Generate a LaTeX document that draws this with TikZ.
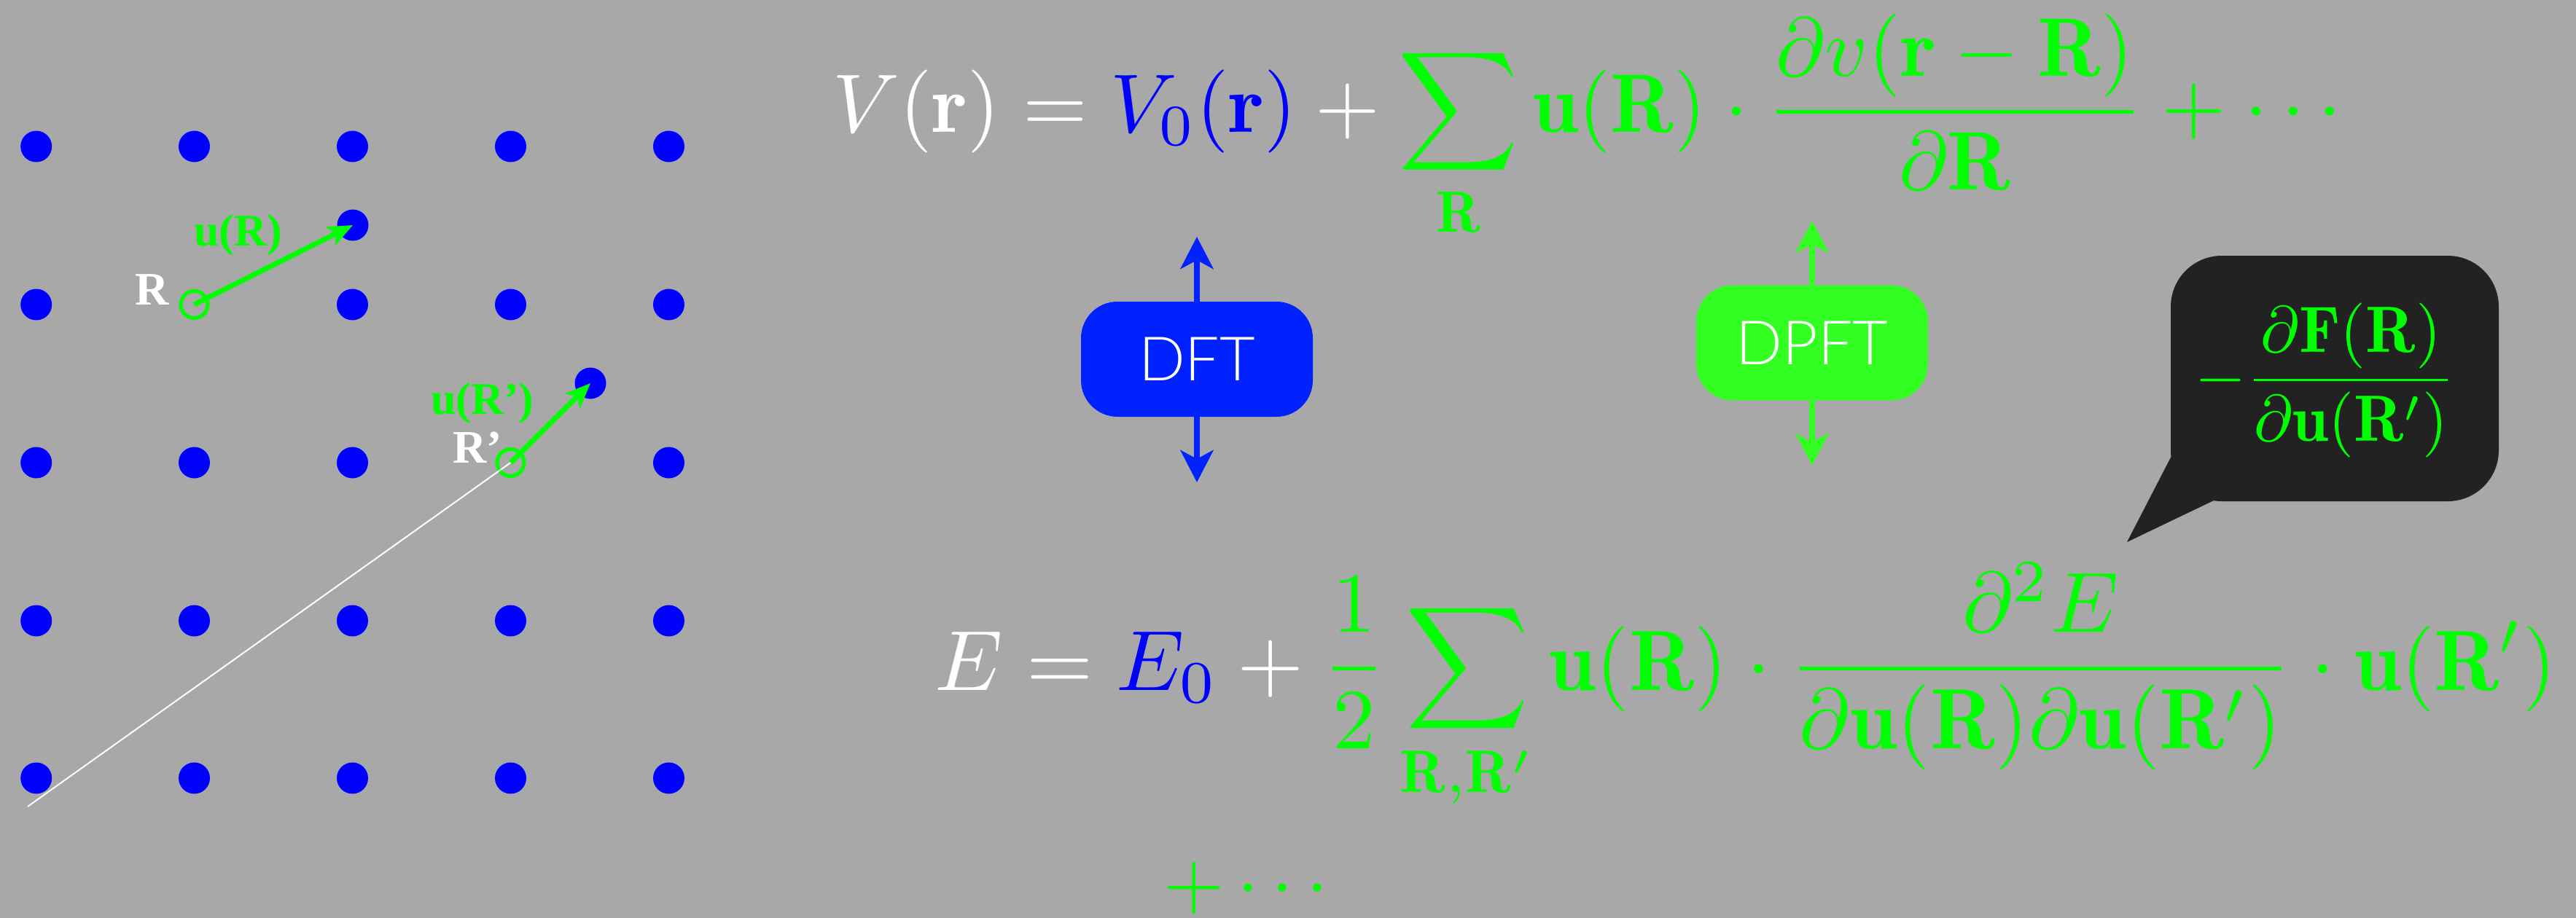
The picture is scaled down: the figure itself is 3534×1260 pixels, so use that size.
\documentclass[tikz,border=0pt]{standalone}
\usepackage{amsmath}
\usepackage{graphicx}
\usepackage{fontspec}
\newfontfamily\labelfont{Liberation Serif}
\newfontfamily\boxfont{Lato Light}
\usetikzlibrary{arrows.meta}
\definecolor{bg}{HTML}{A8A8A8}
\definecolor{dotblue}{HTML}{0000FF}
\definecolor{lgreen}{HTML}{00FF00}
\definecolor{dftblue}{HTML}{0022FF}
\definecolor{dpftgreen}{HTML}{33FF22}
\definecolor{bubblegray}{HTML}{222222}
\tikzset{
  dot/.style={circle, fill=dotblue, inner sep=0pt, minimum size=43pt},
  site/.style={circle, draw=lgreen, line width=5pt, inner sep=0pt, minimum size=37pt},
  disp/.style={-{Stealth[length=34pt,width=28pt,inset=8pt]}, draw=lgreen, fill=lgreen, line width=7pt},
  glabel/.style={inner sep=0pt, text=lgreen, font=\labelfont\bfseries\fontsize{62}{64}\selectfont},
  wlabel/.style={inner sep=0pt, text=white, font=\labelfont\bfseries\fontsize{64}{66}\selectfont},
  boxnode/.style={rounded corners=50pt, minimum width=318pt, minimum height=158pt, inner sep=0pt, text=white, font=\boxfont\fontsize{84}{84}\selectfont},
  bigarrow/.style={-{Stealth[length=44pt,width=45pt,inset=12pt]}, line width=8pt},
  eqnode/.style={inner sep=0pt},
}
\begin{document}
\begin{tikzpicture}[x=1pt,y=-1pt]
\useasboundingbox (0,0) rectangle (3534,1260);
\fill[bg] (0,0) rectangle (3534,1260);

% lattice
\node[site] (R) at (266.5,418) {};
\node[site] (Rp) at (700.5,635) {};
\coordinate (lineEnd) at (38,1107);
\draw[white, line width=2pt] (Rp.center) -- (lineEnd);
\foreach \i/\x in {1/49.7,2/266.5,3/483.5,4/700.5,5/917.5}{
  \foreach \j/\y in {1/201,2/418,3/635,4/852,5/1068}{
    \ifnum\i\j=22\relax\else\ifnum\i\j=43\relax\else
      \node[dot] (dot\i\j) at (\x,\y) {};
    \fi\fi
  }
}
\node[dot] (dR) at (484,309) {};
\node[dot] (dRp) at (810,526) {};
\draw[disp] (R.center) -- (dR.center);
\draw[disp] (Rp.center) -- (dRp.center);
\node[wlabel, anchor=base west] (lR) at (185,418) {R};
\node[glabel, anchor=base west] (luR) at (266,337) {u(R)};
\node[wlabel, anchor=base west] (lRp) at (621,635) {R’};
\node[glabel, anchor=base west] (luRp) at (591,568) {u(R’)};

% equation V
\node[eqnode, anchor=base west] (eqV) at (1142,182) {\resizebox{2070pt}{!}{$\displaystyle
  \color{white} V(\mathbf{r}) = {\color{dotblue}V_0(\mathbf{r})} + {\color{lgreen}\sum_{\mathbf{R}} \mathbf{u}(\mathbf{R})\cdot\frac{\partial v(\mathbf{r}-\mathbf{R})}{\partial\mathbf{R}} + \cdots}$}};

% equation E
\node[eqnode, anchor=base west] (eqE) at (1282,947) {\resizebox{2225pt}{!}{$\displaystyle
  \color{white} E = {\color{dotblue}E_0} + {\color{lgreen}\frac{1}{2}\sum_{\mathbf{R},\mathbf{R}'} \mathbf{u}(\mathbf{R})\cdot\frac{\partial^2 E}{\partial\mathbf{u}(\mathbf{R})\partial\mathbf{u}(\mathbf{R}')}\cdot\mathbf{u}(\mathbf{R}')}$}};
\node[eqnode, anchor=base west] (eqDots) at (1596,1245) {\scalebox{10.7}{$\color{lgreen}+\cdots$}};

% DFT / DPFT
\coordinate (dftTop) at (1642,325);
\coordinate (dftBot) at (1642,662);
\coordinate (dpftTop) at (2486,303);
\coordinate (dpftBot) at (2486,639);
\node[boxnode, fill=dftblue] (dft) at (1642,493) {DFT};
\node[boxnode, fill=dpftgreen] (dpft) at (2486,470.5) {DPFT};
\draw[bigarrow, draw=dftblue, fill=dftblue] (dft.north) -- (dftTop);
\draw[bigarrow, draw=dftblue, fill=dftblue] (dft.south) -- (dftBot);
\draw[bigarrow, draw=dpftgreen, fill=dpftgreen] (dpft.north) -- (dpftTop);
\draw[bigarrow, draw=dpftgreen, fill=dpftgreen] (dpft.south) -- (dpftBot);

% speech bubble
\fill[bubblegray, rounded corners=70pt] (2978,351) rectangle (3428,688);
\fill[bubblegray] (2981,600) -- (2981,622) -- (2918,744) -- (3037,687) -- (3060,600) -- cycle;
\node[eqnode, anchor=west] (force) at (3011,522) {\resizebox{358pt}{!}{$\displaystyle
  \color{lgreen} -\frac{\partial\mathbf{F}(\mathbf{R})}{\partial\mathbf{u}(\mathbf{R}')}$}};
\end{tikzpicture}
\end{document}
